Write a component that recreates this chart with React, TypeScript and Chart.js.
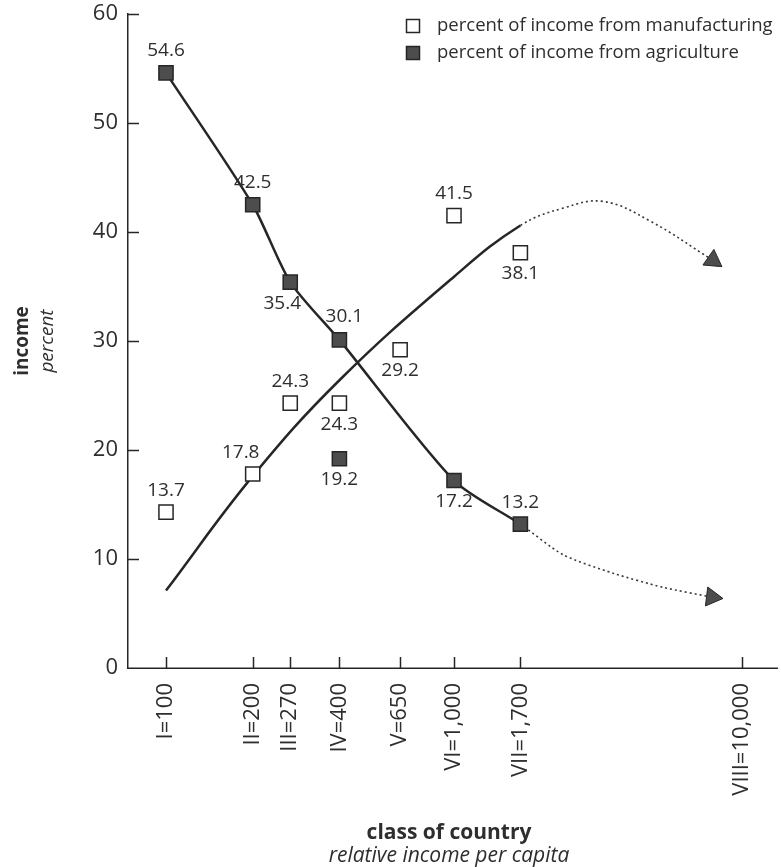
import React, { useEffect, useRef } from "react";
import { Chart, registerables } from "chart.js";

Chart.register(...registerables);

// ---------- data ----------
const classLabels = ["I=100", "II=200", "III=270", "IV=400", "V=650", "VI=1,000", "VII=1,700", "VIII=10,000"];
const classIncome = [100, 200, 270, 400, 650, 1000, 1700, 10000];
const yTickValues = [0, 10, 20, 30, 40, 50, 60];

const manufacturingX = [100, 200, 270, 400, 650, 1000, 1700];
const manufacturingY = [14.3, 17.8, 24.3, 24.3, 29.2, 41.5, 38.1];
const manufacturingLabels = ["13.7", "17.8", "24.3", "24.3", "29.2", "41.5", "38.1"];

const agricultureX = [100, 200, 270, 400, 400, 1000, 1700];
const agricultureY = [54.6, 42.5, 35.4, 30.1, 19.2, 17.2, 13.2];
const agricultureLabels = ["54.6", "42.5", "35.4", "30.1", "19.2", "17.2", "13.2"];

// fitted trend (solid) and projection (dotted) curves
const manufacturingTrendX = [100, 200, 400, 1000, 1700];
const manufacturingTrendY = [7.1, 17.6, 26.4, 35.9, 40.6];
const manufacturingProjX = [1700, 2400, 3300, 4800, 7925];
const manufacturingProjY = [40.6, 42.2, 42.8, 41.0, 37.4];

const agricultureTrendX = [100, 200, 270, 400, 1000, 1700];
const agricultureTrendY = [54.6, 42.5, 35.4, 30.1, 17.2, 13.2];
const agricultureProjX = [1700, 2390, 3565, 5320, 7870];
const agricultureProjY = [13.2, 10.4, 8.7, 7.4, 6.5];

const legendLabels = ["percent of income from manufacturing", "percent of income from agriculture"];
const yTitle = ["income", "percent"];
const xTitle = ["class of country", "relative income per capita"];

// ---------- styles ----------
const FONT = "'Open Sans', 'Noto Sans', sans-serif";
const TEXT = "#2e2e2e";
const INK = "#262626";
const FILL = "#4d4d4d";

const manufacturingPlacement = ["above", "aboveLeft", "above", "below", "below", "above", "below"];
const agriculturePlacement = ["above", "above", "belowLeft", "aboveRight", "below", "below", "above"];
const placementOffset: Record<string, [number, number]> = {
  above: [0, -22],
  below: [0, 21],
  aboveLeft: [-12, -21],
  belowLeft: [-8, 21],
  aboveRight: [5, -23],
};

const zip = (xs: number[], ys: number[]) => xs.map((x, i) => ({ x, y: ys[i] }));
const joinCurve = (tx: number[], ty: number[], px: number[], py: number[]) =>
  zip(tx.concat(px.slice(1)), ty.concat(py.slice(1)));

const overlayPlugin = {
  id: "overlay",
  afterDraw(chart: any) {
    const ctx = chart.ctx;
    const xs = chart.scales.x;
    const ys = chart.scales.y;
    const area = chart.chartArea;
    ctx.save();
    // x axis line, running a little past the plot edge
    ctx.strokeStyle = INK;
    ctx.lineWidth = 1.5;
    ctx.beginPath();
    ctx.moveTo(area.left - 0.75, area.bottom + 0.25);
    ctx.lineTo(778, area.bottom + 0.25);
    ctx.stroke();
    // inward tick marks
    ctx.beginPath();
    classIncome.forEach((v) => {
      const px = Math.round(xs.getPixelForValue(v)) + 0.5;
      ctx.moveTo(px, area.bottom);
      ctx.lineTo(px, area.bottom - 11);
    });
    yTickValues.forEach((v) => {
      if (v === 0) return;
      const py = Math.round(ys.getPixelForValue(v)) + 0.5;
      ctx.moveTo(area.left, py);
      ctx.lineTo(area.left + 11, py);
    });
    ctx.stroke();

    // data labels
    ctx.fillStyle = TEXT;
    ctx.font = `19px ${FONT}`;
    ctx.textAlign = "center";
    ctx.textBaseline = "middle";
    const drawLabels = (xv: number[], yv: number[], labels: string[], place: string[]) => {
      labels.forEach((t, i) => {
        const [dx, dy] = placementOffset[place[i]];
        ctx.fillText(t, xs.getPixelForValue(xv[i]) + dx, ys.getPixelForValue(yv[i]) + dy);
      });
    };
    drawLabels(manufacturingX, manufacturingY, manufacturingLabels, manufacturingPlacement);
    drawLabels(agricultureX, agricultureY, agricultureLabels, agriculturePlacement);

    // legend
    ctx.lineWidth = 1.5;
    ctx.strokeStyle = INK;
    ctx.fillStyle = "#ffffff";
    ctx.fillRect(406, 19, 14, 14);
    ctx.strokeRect(406.5, 19.5, 13, 13);
    ctx.fillStyle = FILL;
    ctx.fillRect(406, 46, 14, 14);
    ctx.strokeRect(406.5, 46.5, 13, 13);
    ctx.fillStyle = TEXT;
    ctx.textAlign = "left";
    ctx.font = `18.5px ${FONT}`;
    ctx.fillText(legendLabels[0], 437, 26);
    ctx.fillText(legendLabels[1], 437, 53);

    // y title
    const cy = (area.top + area.bottom) / 2;
    ctx.textAlign = "center";
    ctx.textBaseline = "alphabetic";
    ctx.save();
    ctx.translate(28, cy);
    ctx.rotate(-Math.PI / 2);
    ctx.font = `bold 19px ${FONT}`;
    ctx.fillText(yTitle[0], 0, 0);
    ctx.restore();
    ctx.save();
    ctx.translate(53, cy);
    ctx.rotate(-Math.PI / 2);
    ctx.font = `italic 19px ${FONT}`;
    ctx.fillText(yTitle[1], 0, 0);
    ctx.restore();

    // x title
    const cx = 449;
    ctx.font = `bold 21px ${FONT}`;
    ctx.fillText(xTitle[0], cx, 839);
    ctx.font = `italic 21px ${FONT}`;
    ctx.fillText(xTitle[1], cx, 862);
    ctx.restore();
  },
};

const dottedAfter = (limit: number, solid: any, dotted: any) => (c: any) =>
  c.p0.parsed.x >= limit ? dotted : solid;

export default function App() {
  const ref = useRef<HTMLCanvasElement | null>(null);
  useEffect(() => {
    document.body.style.margin = "0";
    const canvas = ref.current;
    if (!canvas) return;
    const mLimit = manufacturingProjX[0];
    const aLimit = agricultureProjX[0];
    const chart = new Chart(canvas, {
      type: "scatter",
      data: {
        datasets: [
          {
            label: "manufacturing trend",
            data: joinCurve(manufacturingTrendX, manufacturingTrendY, manufacturingProjX, manufacturingProjY),
            showLine: true, pointRadius: 0, fill: false, tension: 0.4, order: 3,
            borderColor: INK, borderWidth: 2.5,
            segment: {
              borderDash: dottedAfter(mLimit, [], [2, 3]),
              borderWidth: dottedAfter(mLimit, 2.5, 1.6),
              borderColor: dottedAfter(mLimit, INK, "#3a3a3a"),
            },
          },
          {
            label: "agriculture trend",
            data: joinCurve(agricultureTrendX, agricultureTrendY, agricultureProjX, agricultureProjY),
            showLine: true, pointRadius: 0, fill: false, tension: 0.25, order: 3,
            borderColor: INK, borderWidth: 2.5,
            segment: {
              borderDash: dottedAfter(aLimit, [], [2, 3]),
              borderWidth: dottedAfter(aLimit, 2.5, 1.6),
              borderColor: dottedAfter(aLimit, INK, "#3a3a3a"),
            },
          },
          {
            label: "ma",
            data: [{ x: manufacturingProjX[manufacturingProjX.length - 1], y: manufacturingProjY[manufacturingProjY.length - 1] }],
            pointStyle: "triangle", pointRadius: 11, pointRotation: 125,
            backgroundColor: FILL, borderColor: INK, borderWidth: 1, order: 2,
          },
          {
            label: "aa",
            data: [{ x: agricultureProjX[agricultureProjX.length - 1], y: agricultureProjY[agricultureProjY.length - 1] }],
            pointStyle: "triangle", pointRadius: 11, pointRotation: 97,
            backgroundColor: FILL, borderColor: INK, borderWidth: 1, order: 2,
          },
          {
            label: legendLabels[0],
            data: zip(manufacturingX, manufacturingY),
            pointStyle: "rect", pointRadius: 10, backgroundColor: "#ffffff", borderColor: INK, borderWidth: 1.5, order: 1,
          },
          {
            label: legendLabels[1],
            data: zip(agricultureX, agricultureY),
            pointStyle: "rect", pointRadius: 10, backgroundColor: FILL, borderColor: INK, borderWidth: 1.5, order: 1,
          },
        ],
      },
      options: {
        animation: false,
        responsive: false,
        events: [],
        layout: { padding: { top: 14, right: 3, left: 0, bottom: 0 } },
        plugins: { legend: { display: false }, tooltip: { enabled: false } },
        scales: {
          x: {
            type: "logarithmic",
            min: 73.8,
            max: 12409,
            afterBuildTicks: (s: any) => {
              s.ticks = classIncome.map((v) => ({ value: v }));
            },
            afterFit: (s: any) => {
              s.height = 199;
              s.paddingLeft = 0;
              s.paddingRight = 0;
            },
            ticks: {
              autoSkip: false,
              minRotation: 90,
              maxRotation: 90,
              padding: 15,
              color: TEXT,
              font: { family: FONT, size: 22 },
              callback: (_v: any, i: number) => classLabels[i],
            },
            grid: { display: false, drawTicks: false },
            border: { display: false },
          },
          y: {
            min: 0,
            max: 60,
            afterBuildTicks: (s: any) => {
              s.ticks = yTickValues.map((v) => ({ value: v }));
            },
            afterFit: (s: any) => {
              s.width = 128;
              s.paddingTop = 0;
              s.paddingBottom = 0;
            },
            ticks: {
              padding: 10,
              color: TEXT,
              font: { family: FONT, size: 22 },
              callback: (v: any) => String(v),
            },
            grid: { display: false, drawTicks: false },
            border: { display: true, color: INK, width: 1.5 },
          },
        },
      },
      plugins: [overlayPlugin],
    } as any);
    return () => chart.destroy();
  }, []);
  return (
    <div style={{ width: 781, height: 867 }}>
      <canvas ref={ref} width={781} height={867} style={{ display: "block" }} />
    </div>
  );
}
